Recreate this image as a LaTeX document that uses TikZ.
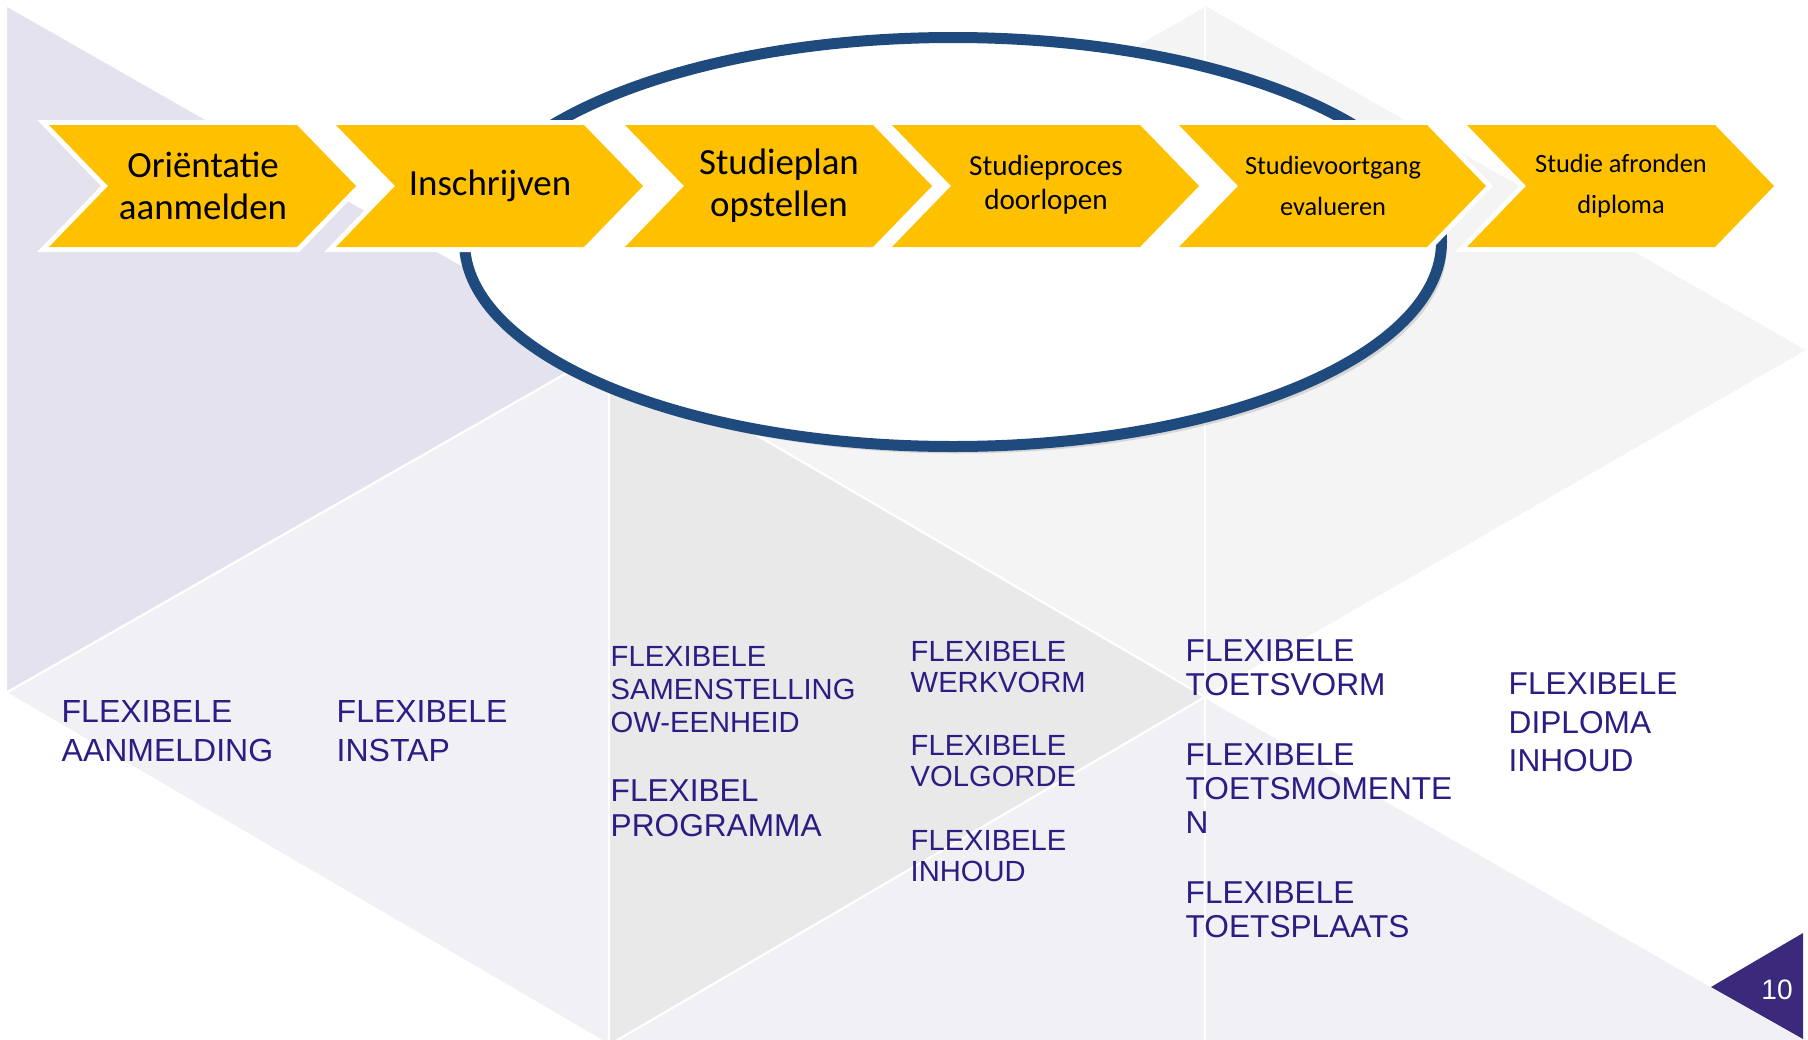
\documentclass[tikz,border=0pt]{standalone}
\usepackage{fontspec}
\setmainfont{Liberation Sans}
\newfontfamily\stapfont{Carlito}
\usetikzlibrary{shadows}

\definecolor{stapgeel}{HTML}{FFC000}
\definecolor{ringblauw}{HTML}{1F4A7E}
\definecolor{flexblauw}{HTML}{2C1C83}
\definecolor{paginapaars}{HTML}{3B2A7B}
\definecolor{lavdonker}{HTML}{E4E2EE}
\definecolor{lavlicht}{HTML}{F1F0F5}
\definecolor{grijs}{HTML}{E9E9E9}
\definecolor{grijslicht}{HTML}{F4F4F4}

\tikzset{
	vlak/.style={draw=white, line width=0.6pt},
	stap/.style={fill=stapgeel, preaction={draw=white, line width=0.1cm, line join=miter}},
	staptekst/.style={align=center, inner sep=0pt, text=black},
	flex/.style={anchor=north west, inner sep=0pt, align=left, text=flexblauw}
}

\begin{document}
\begin{tikzpicture}
	\useasboundingbox (0,0) rectangle (18.08,-10.39);
	\fill[white] (0,0) rectangle (18.08,-10.39);

	% background triangles
	\filldraw[vlak, fill=grijslicht] (12.06,-0.05) -- (18.08,-3.50) -- (12.05,-6.97) -- (6.09,-3.49) -- cycle;
	\filldraw[vlak, fill=lavdonker] (0.06,-0.05) -- (0.06,-6.93) -- (6.09,-3.49) -- cycle;
	\filldraw[vlak, fill=lavlicht] (6.09,-3.49) -- (6.09,-10.45) -- (0.06,-6.93) -- cycle;
	\filldraw[vlak, fill=grijs] (6.09,-3.49) -- (6.09,-10.45) -- (12.05,-6.97) -- cycle;
	\filldraw[vlak, fill=lavlicht] (6.09,-10.45) -- (12.05,-6.97) -- (18.14,-10.45) -- cycle;
	\draw[vlak] (12.05,-0.05) -- (12.05,-10.45);

	% the ring behind the steps
	\draw[ringblauw, line width=0.11cm, fill=white, drop shadow={opacity=0.25, shadow xshift=0.05cm, shadow yshift=-0.07cm}]
		(9.53,-2.42) ellipse [x radius=4.885, y radius=2.045];

	% the six steps
	\foreach \x in {0.49, 3.36, 6.25, 8.92, 11.79, 14.67}
		\path[stap] (\x,-1.25) -- ++(2.48,0) -- ++(0.59,-0.61) -- ++(-0.59,-0.61) -- ++(-2.48,0) -- ++(0.59,0.61) -- cycle;

	\node[staptekst, font=\stapfont\fontsize{10.5}{12}\selectfont] (orientatie) at (2.03,-1.86) {Oriëntatie\\aanmelden};
	\node[staptekst, font=\stapfont\fontsize{10.5}{12}\selectfont] (inschrijven) at (4.90,-1.86) {Inschrijven};
	\node[staptekst, font=\stapfont\fontsize{10.5}{12}\selectfont] (studieplan) at (7.79,-1.86) {Studieplan\\opstellen};
	\node[staptekst, font=\stapfont\fontsize{8.3}{9.7}\selectfont] (studieproces) at (10.46,-1.85) {Studieproces\\doorlopen};
	\node[staptekst, font=\stapfont\fontsize{7.5}{11.7}\selectfont] (voortgang) at (13.33,-1.86) {Studievoortgang\\evalueren};
	\node[staptekst, font=\stapfont\fontsize{7.5}{11.7}\selectfont] (afronden) at (16.21,-1.86) {Studie afronden\\diploma};

	% flexible options per step
	\node[flex, font=\fontsize{9.1}{11.1}\selectfont] (aanmelding) at (0.61,-7.00) {FLEXIBELE\\AANMELDING};
	\node[flex, font=\fontsize{9.1}{11.1}\selectfont] (instap) at (3.36,-7.00) {FLEXIBELE\\INSTAP};
	\node[flex, font=\fontsize{8.3}{9.3}\selectfont] (samenstelling) at (6.10,-6.46) {FLEXIBELE\\SAMENSTELLING\\OW-EENHEID};
	\node[flex, font=\fontsize{9}{10}\selectfont] (programma) at (6.10,-7.79) {FLEXIBEL\\PROGRAMMA};
	\node[flex, font=\fontsize{8.3}{8.8}\selectfont] (werkvorm) at (9.10,-6.41) {FLEXIBELE\\WERKVORM};
	\node[flex, font=\fontsize{8.3}{8.8}\selectfont] (volgorde) at (9.10,-7.35) {FLEXIBELE\\VOLGORDE};
	\node[flex, font=\fontsize{8.3}{8.8}\selectfont] (inhoud) at (9.10,-8.30) {FLEXIBELE\\INHOUD};
	\node[flex, font=\fontsize{9}{9.7}\selectfont] (toetsvorm) at (11.85,-6.39) {FLEXIBELE\\TOETSVORM};
	\node[flex, font=\fontsize{9}{9.7}\selectfont] (toetsmomenten) at (11.85,-7.43) {FLEXIBELE\\TOETSMOMENTE\\N};
	\node[flex, font=\fontsize{9}{9.7}\selectfont] (toetsplaats) at (11.85,-8.81) {FLEXIBELE\\TOETSPLAATS};
	\node[flex, font=\fontsize{9}{11}\selectfont] (diploma) at (15.08,-6.72) {FLEXIBELE\\DIPLOMA\\INHOUD};

	% page number
	\fill[paginapaars] (17.11,-9.87) -- (18.03,-9.33) -- (18.03,-10.39) -- cycle;
	\node[text=white, font=\fontsize{8}{9}\selectfont] (pagina) at (17.77,-9.90) {10};
\end{tikzpicture}
\end{document}
